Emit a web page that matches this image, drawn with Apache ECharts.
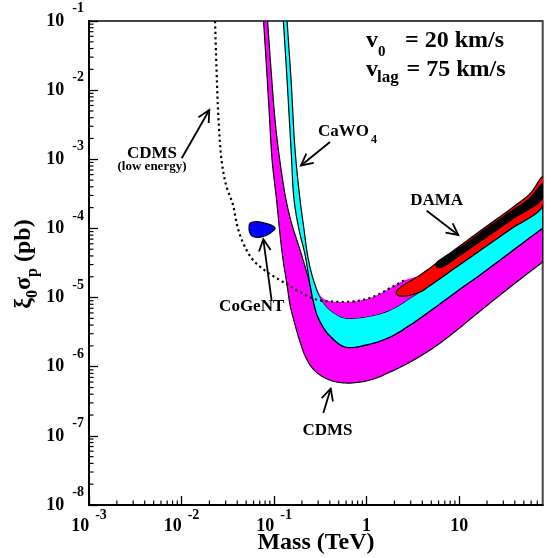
<!DOCTYPE html>
<html><head><meta charset="utf-8">
<script src="https://cdn.jsdelivr.net/npm/echarts@6/dist/echarts.min.js"></script>
<style>html,body{margin:0;padding:0;background:#fff}#c{width:551px;height:558px}</style>
</head><body><div id="c"></div>
<script>
// ---- data: [mass (TeV), xi0*sigma_p (pb)] ----
const cdmsLower = [[0.0770,1e-1],[0.0819,2.73e-2],[0.0883,5.16e-3],[0.0952,9.76e-4],[0.1064,2.58e-4],[0.1161,8.03e-5],[0.1251,3.49e-5],[0.1382,1.52e-5],[0.1489,7.80e-6],[0.1687,4.01e-6],[0.1910,2.28e-6],[0.2218,1.336e-6],[0.2706,8.96e-7],[0.374,6.64e-7],[0.586,5.81e-7],[1.091,6.42e-7],[1.795,8.38e-7],[2.953,1.169e-6],[4.86,1.744e-6],[7.99,2.83e-6],[16.87,6.39e-6],[35.6,1.421e-5],[80,3.27e-5]];
const cdmsMiddle = [[0.0851,1e-1],[0.0928,1.956e-2],[0.1025,3.70e-3],[0.1133,1.153e-3],[0.1348,2.58e-4],[0.1565,1.121e-4],[0.1910,4.87e-5],[0.2218,2.50e-5],[0.2449,1.52e-5],[0.2640,9.22e-6],[0.2916,5.59e-6],[0.3386,3.75e-6],[0.4030,2.78e-6],[0.586,1.927e-6],[1.091,2.13e-6],[1.795,2.69e-6],[2.953,4.01e-6],[4.86,6.39e-6],[10.25,1.33e-5],[16.87,2.13e-5],[35.6,4.50e-5],[80,1.014e-4]];
const cawoLeft = [[0.1260,1e-1],[0.1382,1.402e-2],[0.1527,1.362e-3],[0.1645,2.58e-4],[0.1864,9.49e-5],[0.2163,4.13e-5]];
const cawoUpper = [[0.1382,1e-1],[0.1527,1.402e-2],[0.1687,1.362e-3],[0.1910,2.58e-4],[0.2111,9.49e-5],[0.2332,3.73e-5],[0.2706,1.68e-5],[0.3143,1.019e-5],[0.374,7.30e-6],[0.4566,5.88e-6],[0.586,5.06e-6],[1.091,5.41e-6],[1.795,6.61e-6],[2.953,9.85e-6],[4.86,1.545e-5],[10.25,3.11e-5],[16.87,4.95e-5],[35.6,9.97e-5],[80,2.18e-4]];
const cdmsUpper = [[0.2706,1.68e-5],[0.2990,1.203e-5],[0.3471,9.53e-6],[0.4236,8.77e-6],[0.586,8.63e-6],[0.851,9.07e-6],[1.236,1.053e-5],[1.795,1.375e-5],[2.607,1.795e-5],[4.86,2.27e-5],[10.25,4.27e-5],[16.87,6.80e-5],[35.6,1.415e-4],[80,3.36e-4]];
const cdmsLowEnergy = [[0.02302,1e-1],[0.02390,1.956e-2],[0.02512,3.70e-3],[0.02706,9.76e-4],[0.03028,4.25e-4],[0.03603,2.18e-4],[0.03981,1.121e-4],[0.04623,6.15e-5],[0.05929,3.49e-5],[0.0840,2.34e-5],[0.1251,1.68e-5],[0.1910,1.203e-5],[0.2640,9.69e-6],[0.3559,8.86e-6],[0.4236,8.77e-6],[0.586,8.63e-6],[0.851,9.07e-6],[1.236,1.053e-5],[1.795,1.375e-5],[2.607,1.795e-5]];
const cogent = [[0.05501,1.186e-4],[0.06501,1.251e-4],[0.0780,1.198e-4],[0.0952,1.102e-4],[0.1025,1.004e-4],[0.0928,8.73e-5],[0.0819,7.90e-5],[0.0677,7.44e-5],[0.05785,7.77e-5],[0.05433,8.88e-5],[0.05366,1.014e-4]];
const dama = [[2.084,1.203e-5],[2.302,1.398e-5],[3.79,2.12e-5],[7.24,3.99e-5],[16.87,9.18e-5],[38.4,2.04e-4],[58.6,3.20e-4],[80,5.54e-4],[80,2.11e-4],[35.6,9.65e-5],[16.87,4.79e-5],[10.25,3.01e-5],[4.86,1.494e-5],[3.79,1.203e-5],[2.607,1.053e-5],[2.190,1.071e-5]];
const damaCore = [[5.64,3.11e-5],[6.55,3.67e-5],[11.05,5.66e-5],[21.6,1.084e-4],[38.4,1.846e-4],[58.6,2.75e-4],[80,4.39e-4],[80,2.75e-4],[38.4,1.391e-4],[21.6,8.17e-5],[11.05,4.41e-5],[6.55,2.77e-5],[5.78,2.72e-5]];

const massTicks = [0.001, 0.01, 0.1, 1, 10];
const massTickLabels = [['10','-3'],['10','-2'],['10','-1'],['1',''],['10','']];
const sigmaTicks = [1e-8, 1e-7, 1e-6, 1e-5, 1e-4, 1e-3, 1e-2, 1e-1];
const sigmaTickLabels = [['10','-8'],['10','-7'],['10','-6'],['10','-5'],['10','-4'],['10','-3'],['10','-2'],['10','-1']];

const FONT = '"Liberation Serif", "Times New Roman", serif';
const X_MIN = 0.001, X_MAX = 80, Y_MIN = 1e-8, Y_MAX = 0.1;

// minor tick positions (2..9 x 10^k)
const xMinor = [], yMinor = [];
for (let k = -3; k <= 1; k++) for (let m = 2; m <= 9; m++) { const v = m * Math.pow(10, k); if (v < X_MAX) xMinor.push([v, Y_MIN]); }
for (let k = -8; k <= -2; k++) for (let m = 2; m <= 9; m++) yMinor.push([X_MIN, m * Math.pow(10, k)]);

function lerp(a, b, u) { return [a[0] + (b[0] - a[0]) * u, a[1] + (b[1] - a[1]) * u]; }
function catmull(P, seg, closed) {
  const n = P.length; if (n < 3) return P.slice();
  const get = i => closed ? P[(i + n) % n] :
    (i < 0 ? [2 * P[0][0] - P[1][0], 2 * P[0][1] - P[1][1]] :
     i >= n ? [2 * P[n - 1][0] - P[n - 2][0], 2 * P[n - 1][1] - P[n - 2][1]] : P[i]);
  const d = (a, b) => Math.max(Math.pow(Math.hypot(b[0] - a[0], b[1] - a[1]), 0.5), 1e-4);
  const out = [];
  const last = closed ? n : n - 1;
  for (let i = 0; i < last; i++) {
    const p0 = get(i - 1), p1 = get(i), p2 = get(i + 1), p3 = get(i + 2);
    const t0 = 0, t1 = d(p0, p1), t2 = t1 + d(p1, p2), t3 = t2 + d(p2, p3);
    for (let s = 0; s < seg; s++) {
      const t = t1 + (t2 - t1) * s / seg;
      const A1 = lerp(p0, p1, (t - t0) / (t1 - t0));
      const A2 = lerp(p1, p2, (t - t1) / (t2 - t1));
      const A3 = lerp(p2, p3, (t - t2) / (t3 - t2));
      const B1 = lerp(A1, A2, (t - t0) / (t2 - t0));
      const B2 = lerp(A2, A3, (t - t1) / (t3 - t1));
      out.push(lerp(B1, B2, (t - t1) / (t2 - t1)));
    }
  }
  if (!closed) out.push(P[n - 1].slice());
  return out;
}

function bandSeries(lowerPts, upperPts, fill, stroke) {
  return {
    type: 'custom', coordinateSystem: 'cartesian2d', clip: true, silent: true,
    data: lowerPts,
    renderItem(params, api) {
      if (params.dataIndex !== 0) return null;
      const lo = catmull(lowerPts.map(p => api.coord(p)), 10, false);
      const up = catmull(upperPts.map(p => api.coord(p)), 10, false).reverse();
      return { type: 'polygon', shape: { points: lo.concat(up) },
        style: { fill: fill, stroke: stroke || 'none', lineWidth: 1.2 } };
    }
  };
}
function blobSeries(pts, fill) {
  return {
    type: 'custom', coordinateSystem: 'cartesian2d', clip: true, silent: true,
    data: pts,
    renderItem(params, api) {
      if (params.dataIndex !== 0) return null;
      return { type: 'polygon', shape: { points: catmull(pts.map(p => api.coord(p)), 10, true) },
        style: { fill: fill, stroke: '#000', lineWidth: 1.2 } };
    }
  };
}
function curveSeries(pts) {
  return {
    type: 'custom', coordinateSystem: 'cartesian2d', clip: true, silent: true,
    data: pts,
    renderItem(params, api) {
      if (params.dataIndex !== 0) return null;
      return { type: 'polyline', shape: { points: catmull(pts.map(p => api.coord(p)), 10, false) },
        style: { fill: 'none', stroke: '#000', lineWidth: 2.2, lineDash: [2.2, 3.2] } };
    }
  };
}
function tickSeries(pts, dx, dy) {
  return {
    type: 'custom', coordinateSystem: 'cartesian2d', clip: false, silent: true,
    data: pts,
    renderItem(params, api) {
      const p = api.coord([api.value(0), api.value(1)]);
      return { type: 'line', shape: { x1: p[0], y1: p[1], x2: p[0] + dx, y2: p[1] + dy },
        style: { stroke: '#000', lineWidth: 1.2 } };
    }
  };
}

function findLabel(v, ticks, labels) {
  const lv = Math.log10(v);
  for (let i = 0; i < ticks.length; i++) if (Math.abs(lv - Math.log10(ticks[i])) < 1e-6) return labels[i];
  return null;
}

const cyanLower = cawoLeft.concat(cdmsMiddle.filter(p => p[0] >= 0.244));
const upperStripLower = cawoUpper.filter(p => p[0] >= 0.27);

function arrow(tail, tip) {
  const ang = Math.atan2(tail[1] - tip[1], tail[0] - tip[0]);
  const L = 13, a = 0.47;
  const h1 = [tip[0] + L * Math.cos(ang + a), tip[1] + L * Math.sin(ang + a)];
  const h2 = [tip[0] + L * Math.cos(ang - a), tip[1] + L * Math.sin(ang - a)];
  return [
    { type: 'line', shape: { x1: tail[0], y1: tail[1], x2: tip[0], y2: tip[1] }, style: { stroke: '#000', lineWidth: 1.8 } },
    { type: 'polyline', shape: { points: [h1, tip, h2] }, style: { stroke: '#000', lineWidth: 1.8, fill: 'none' } }
  ];
}
function txt(x, y, text, size, align) {
  return { type: 'text', x: x, y: y, style: { text: text, fill: '#000', font: 'bold ' + size + 'px ' + FONT,
    align: align || 'left', textAlign: align || 'left', verticalAlign: 'middle', textVerticalAlign: 'middle' } };
}

const chart = echarts.init(document.getElementById('c'), null, { renderer: 'canvas' });
chart.setOption({
  animation: false,
  backgroundColor: '#fff',
  grid: { left: 89, top: 21, width: 453.7, height: 484, show: true, borderColor: '#444', borderWidth: 2, backgroundColor: 'transparent' },
  xAxis: {
    type: 'log', logBase: 10, min: X_MIN, max: X_MAX, splitNumber: 5,
    axisLine: { lineStyle: { color: '#000', width: 2 } },
    axisTick: { inside: true, length: 9, lineStyle: { color: '#000', width: 1.3 } },
    splitLine: { show: false },
    axisLabel: {
      margin: 3, showMaxLabel: false, color: '#000',
      formatter: v => { const l = findLabel(v, massTicks, massTickLabels); if (!l) return ''; return l[1] ? '{b|' + l[0] + '}{e|' + l[1] + '}' : '{b|' + l[0] + '}'; },
      rich: {
        b: { fontSize: 18, fontWeight: 'bold', fontFamily: FONT, color: '#000', lineHeight: 36 },
        e: { fontSize: 14, fontWeight: 'bold', fontFamily: FONT, color: '#000', padding: [0, 0, 22, 6] }
      }
    }
  },
  yAxis: {
    type: 'log', logBase: 10, min: Y_MIN, max: Y_MAX, splitNumber: 7,
    axisLine: { lineStyle: { color: '#000', width: 2 } },
    axisTick: { inside: true, length: 9, lineStyle: { color: '#000', width: 1.3 } },
    splitLine: { show: false },
    axisLabel: {
      margin: 5, color: '#000',
      formatter: v => { const l = findLabel(v, sigmaTicks, sigmaTickLabels); if (!l) return ''; return '{b|' + l[0] + '}{e|' + l[1] + '}'; },
      rich: {
        b: { fontSize: 18, fontWeight: 'bold', fontFamily: FONT, color: '#000' },
        e: { fontSize: 14, fontWeight: 'bold', fontFamily: FONT, color: '#000', padding: [0, 0, 25, 8] }
      }
    }
  },
  series: [
    bandSeries(cdmsLower, cdmsMiddle, '#ff00ff', '#000'),
    bandSeries(cyanLower, cawoUpper, '#00ffff', '#000'),
    bandSeries(upperStripLower, cdmsUpper, '#ff00ff', null),
    curveSeries(cdmsLowEnergy),
    blobSeries(cogent, '#0000ff'),
    blobSeries(dama, '#ff0000'),
    blobSeries(damaCore, '#000000'),
    tickSeries(xMinor, 0, -4.5),
    tickSeries(yMinor, 4.5, 0)
  ],
  graphic: [
    txt(366, 40.5, 'v', 24), txt(378, 52.5, '0', 15), txt(405, 40.5, '= 20 km/s', 24),
    txt(366, 69.5, 'v', 24), txt(377, 78, 'lag', 17), txt(406.5, 69.5, '= 75 km/s', 24),
    txt(318, 131.5, 'CaWO', 17), txt(371, 139.5, '4', 12),
    txt(436.7, 200.5, 'DAMA', 17, 'center'),
    txt(251.7, 307, 'CoGeNT', 17, 'center'),
    txt(327.5, 430.5, 'CDMS', 17, 'center'),
    txt(152, 153.3, 'CDMS', 17, 'center'),
    txt(152, 166.5, '(low energy)', 13, 'center'),
    txt(316, 542.5, 'Mass (TeV)', 24, 'center'),
    { type: 'text', x: 24, y: 264, rotation: Math.PI / 2,
      style: { text: '{a|ξ}{s|0}{a|σ}{s|p}{a| (pb)}', fill: '#000', align: 'center', verticalAlign: 'middle',
        textAlign: 'center', textVerticalAlign: 'middle',
        rich: {
          a: { fontSize: 24, fontWeight: 'bold', fontFamily: FONT, fill: '#000' },
          s: { fontSize: 16, fontWeight: 'bold', fontFamily: FONT, fill: '#000', padding: [18, 0, 0, 0] }
        } } }
  ].concat(
    arrow([181.7, 158.3], [209.3, 110]),
    arrow([330, 142], [301, 165.5]),
    arrow([426.7, 210.7], [458.3, 235]),
    arrow([271.7, 301], [263.3, 239.3]),
    arrow([323.3, 413], [330.7, 388.7])
  )
});
</script>
</body></html>
